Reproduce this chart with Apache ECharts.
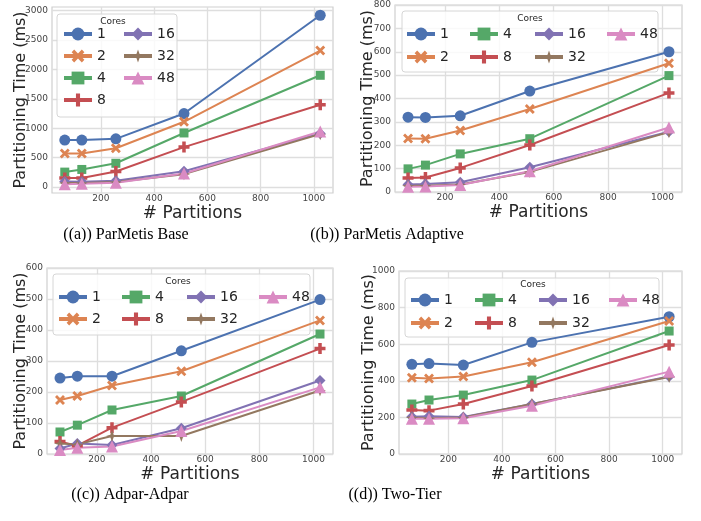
<!DOCTYPE html>
<html>
<head>
<meta charset="utf-8">
<script src="https://cdn.jsdelivr.net/npm/echarts@6/dist/echarts.min.js"></script>
<style>
  html, body { margin: 0; padding: 0; background: #fff; }
  #main { width: 701px; height: 521px; }
</style>
</head>
<body>
<div id="main"></div>
<script>
// x values (# partitions) and legend entries
var partitions = [64, 128, 256, 512, 1024];
var cores = ['1', '2', '4', '8', '16', '32', '48'];
var xTicks = [200, 400, 600, 800, 1000];

// (a) ParMetis Base, one row per core count
var baseTimes = [
  [800, 800, 820, 1250, 2920],
  [570, 570, 660, 1110, 2320],
  [255, 300, 405, 920, 1900],
  [155, 155, 265, 680, 1400],
  [95, 90, 110, 270, 910],
  [70, 70, 85, 220, 900],
  [50, 58, 75, 230, 945]
];
// (b) ParMetis Adaptive
var adaptiveTimes = [
  [320, 319, 326, 432, 600],
  [229, 228, 263, 355, 551],
  [99, 115, 163, 228, 498],
  [60, 62, 103, 201, 424],
  [32, 34, 42, 106, 258],
  [27, 27, 32, 86, 256],
  [22, 24, 30, 89, 276]
];
// (c) Adpar-Adpar
var adparTimes = [
  [245, 251, 251, 333, 498],
  [174, 187, 221, 267, 431],
  [71, 93, 142, 187, 387],
  [40, 27, 85, 168, 340],
  [18, 34, 29, 83, 237],
  [34, 31, 58, 58, 205],
  [13, 20, 24, 74, 215]
];
// (d) Two-Tier
var twoTierTimes = [
  [490, 494, 486, 610, 750],
  [417, 413, 424, 501, 727],
  [273, 295, 322, 404, 672],
  [240, 237, 273, 372, 596],
  [203, 206, 202, 273, 423],
  [200, 195, 200, 273, 421],
  [193, 192, 195, 264, 450]
];
var baseTicks = [0, 500, 1000, 1500, 2000, 2500, 3000];

var colors = ['#4C72B0', '#DD8452', '#55A868', '#C44E52', '#8172B3', '#937860', '#DA8BC3'];
var symbols = [
  'circle',
  'path://M0,2 L2,0 L5,3 L8,0 L10,2 L7,5 L10,8 L8,10 L5,7 L2,10 L0,8 L3,5 Z',
  'rect',
  'path://M3.4,0 H6.6 V3.4 H10 V6.6 H6.6 V10 H3.4 V6.6 H0 V3.4 H3.4 Z',
  'path://M5,0 L8.2,5 L5,10 L1.8,5 Z',
  'path://M5,0 L6.1,3.9 L9,5 L6.1,6.1 L5,10 L3.9,6.1 L1,5 L3.9,3.9 Z',
  'triangle'
];
var sizes = [11, 10, 9, 11, 11, 12, 12];

var panels = [
  { data: baseTimes, grid: { left: 52, top: 7, width: 281, height: 186 }, ymin: -100, ymax: 3060, ticks: baseTicks, nameGap: 23,
    caption: '((a)) ParMetis Base', cap: [126, 235],
    box: [57, 14, 120, 103], title: [113, 22], rowTop: 27, gap: 8,
    cols: [[62, ['1', '2', '4', '8']], [122, ['16', '32', '48']]] },
  { data: adaptiveTimes, grid: { left: 395, top: 5, width: 287, height: 187 }, ymin: 0, ymax: 800, interval: 100, nameGap: 19,
    caption: '((b)) ParMetis Adaptive', cap: [387, 235],
    box: [402, 11, 256, 61], title: [530, 19], rowTop: 27, gap: 9,
    cols: [[405, ['1', '2']], [468, ['4', '8']], [533, ['16', '32']], [605, ['48']]] },
  { data: adparTimes, grid: { left: 47, top: 268, width: 286, height: 186 }, ymin: 0, ymax: 600, interval: 100, nameGap: 18,
    caption: '((c)) Adpar-Adpar', cap: [130, 495],
    box: [53, 274, 257, 61], title: [178, 282], rowTop: 290, gap: 8,
    cols: [[57, ['1', '2']], [120, ['4', '8']], [185, ['16', '32']], [257, ['48']]] },
  { data: twoTierTimes, grid: { left: 399, top: 271, width: 283, height: 183 }, ymin: 0, ymax: 1000, interval: 200, nameGap: 22,
    caption: '((d)) Two-Tier', cap: [395, 495],
    box: [405, 278, 254, 59], title: [533, 285], rowTop: 293, gap: 9,
    cols: [[409, ['1', '2']], [473, ['4', '8']], [537, ['16', '32']], [607, ['48']]] }
];

var grids = [], xAxes = [], yAxes = [], series = [], legends = [], graphics = [];
var tickFont = { fontFamily: 'DejaVu Sans', fontSize: 9, color: '#444', formatter: function (v) { return String(v); } };

panels.forEach(function (p, i) {
  grids.push(Object.assign({ show: true, borderColor: '#cfcfcf', borderWidth: 1.2, backgroundColor: '#fff' }, p.grid));
  xAxes.push({
    type: 'value', gridIndex: i, min: 16, max: 1072,
    name: '# Partitions', nameLocation: 'middle', nameGap: 12, nameMoveOverlap: false,
    nameTextStyle: { fontFamily: 'DejaVu Sans', fontSize: 17, color: '#262626', verticalAlign: 'top' },
    axisLine: { show: false }, axisTick: { show: false, customValues: xTicks },
    axisLabel: Object.assign({ customValues: xTicks, margin: 1 }, tickFont),
    splitLine: { show: true, lineStyle: { color: '#dedede', width: 1.3 } }
  });
  var y = {
    type: 'value', gridIndex: i, min: p.ymin, max: p.ymax,
    name: 'Partitioning Time (ms)', nameLocation: 'middle', nameGap: p.nameGap, nameMoveOverlap: false,
    nameTextStyle: { fontFamily: 'DejaVu Sans', fontSize: 16, color: '#262626' },
    axisLine: { show: false }, axisTick: { show: false },
    axisLabel: Object.assign({ margin: 4 }, tickFont),
    splitLine: { show: true, lineStyle: { color: '#dedede', width: 1.3 } }
  };
  if (p.ticks) {
    y.axisTick.customValues = p.ticks;
    y.axisLabel.customValues = p.ticks;
  } else {
    y.interval = p.interval;
  }
  yAxes.push(y);

  p.data.forEach(function (vals, k) {
    series.push({
      name: cores[k], type: 'line', xAxisIndex: i, yAxisIndex: i,
      data: partitions.map(function (x, j) { return [x, vals[j]]; }),
      symbol: symbols[k], symbolSize: sizes[k], showSymbol: true,
      lineStyle: { color: colors[k], width: 2 },
      itemStyle: { color: colors[k], borderWidth: 0 },
      emphasis: { disabled: true }, animation: false
    });
  });

  // legend frame and title
  graphics.push({
    type: 'rect', z: 3,
    shape: { x: p.box[0], y: p.box[1], width: p.box[2], height: p.box[3], r: 3 },
    style: { fill: 'rgba(255,255,255,0.8)', stroke: '#d6d6d6', lineWidth: 1 }
  });
  graphics.push({
    type: 'text', z: 5, x: p.title[0], y: p.title[1],
    style: { text: 'Cores', font: '9px "DejaVu Sans"', fill: '#262626', align: 'center', verticalAlign: 'middle' }
  });
  graphics.push({
    type: 'text', z: 5, x: p.cap[0], y: p.cap[1],
    style: { text: p.caption, font: '16px "Liberation Serif"', fill: '#000', align: 'center', verticalAlign: 'middle' }
  });

  p.cols.forEach(function (c) {
    legends.push({
      orient: 'vertical', left: c[0], top: p.rowTop, z: 6, padding: 0,
      data: c[1], itemWidth: 28, itemHeight: 16, itemGap: p.gap,
      selectedMode: false,
      lineStyle: { width: 4 },
      textStyle: { fontFamily: 'DejaVu Sans', fontSize: 14, color: '#262626' }
    });
  });
});

var chart = echarts.init(document.getElementById('main'));
chart.setOption({
  animation: false,
  grid: grids,
  xAxis: xAxes,
  yAxis: yAxes,
  legend: legends,
  series: series,
  graphic: graphics
});
</script>
</body>
</html>
